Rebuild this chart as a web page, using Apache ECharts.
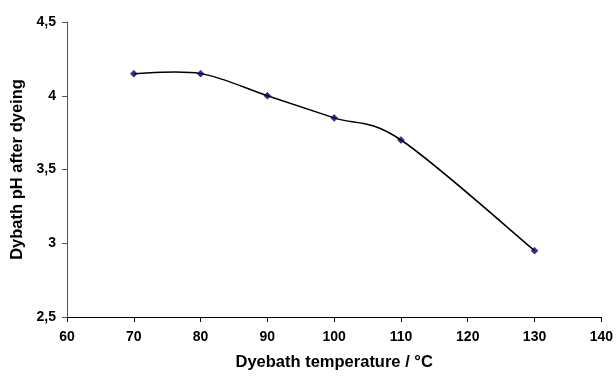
<!DOCTYPE html>
<html>
<head>
<meta charset="utf-8">
<script src="https://cdn.jsdelivr.net/npm/echarts@6/dist/echarts.min.js"></script>
<style>html,body{margin:0;padding:0;background:#fff}#c{width:616px;height:376px}</style>
</head>
<body>
<div id="c"></div>
<script>
var temperatures = [70, 80, 90, 100, 110, 130];
var phValues = [4.15, 4.15, 4.0, 3.85, 3.7, 2.95];
var xTitle = 'Dyebath temperature / °C';
var yTitle = 'Dybath pH after dyeing';

var chart = echarts.init(document.getElementById('c'));
var font = 'Liberation Sans, Arial, sans-serif';
var points = temperatures.map(function (t, i) { return [t, phValues[i]]; });

function smoothPath(params, api) {
  if (params.dataIndex !== 0) return null;
  var p = points.map(function (d) { return api.coord(d); });
  var n = p.length, k = 1 / 6;
  var d = 'M' + p[0][0] + ' ' + p[0][1];
  for (var i = 0; i < n - 1; i++) {
    var p0 = p[i > 0 ? i - 1 : i], p1 = p[i], p2 = p[i + 1], p3 = p[i + 2 < n ? i + 2 : i + 1];
    var c1x = p1[0] + (p2[0] - p0[0]) * k, c1y = p1[1] + (p2[1] - p0[1]) * k;
    var c2x = p2[0] - (p3[0] - p1[0]) * k, c2y = p2[1] - (p3[1] - p1[1]) * k;
    d += ' C' + c1x + ' ' + c1y + ' ' + c2x + ' ' + c2y + ' ' + p2[0] + ' ' + p2[1];
  }
  return {
    type: 'path',
    shape: {pathData: d},
    style: {fill: 'none', stroke: '#000', lineWidth: 1.5}
  };
}

chart.setOption({
  animation: false,
  grid: {left: 67, right: 13, top: 22, bottom: 53},
  xAxis: {
    type: 'value', min: 60, max: 140, interval: 10,
    name: xTitle, nameLocation: 'middle', nameGap: 37,
    nameTextStyle: {fontFamily: font, fontWeight: 'bold', fontSize: 16.5, color: '#000'},
    axisLine: {lineStyle: {color: '#000', width: 1}},
    axisTick: {show: true, inside: false, length: 5, lineStyle: {color: '#000'}},
    axisLabel: {fontFamily: font, fontWeight: 'bold', fontSize: 14, color: '#000', margin: 13},
    splitLine: {show: false}
  },
  yAxis: {
    type: 'value', min: 2.5, max: 4.5, interval: 0.5,
    name: yTitle, nameLocation: 'middle', nameGap: 41, nameRotate: 90,
    nameTextStyle: {fontFamily: font, fontWeight: 'bold', fontSize: 16.5, color: '#000'},
    axisLine: {show: true, lineStyle: {color: '#555', width: 1}},
    axisTick: {show: true, inside: false, length: 5, lineStyle: {color: '#555'}},
    axisLabel: {fontFamily: font, fontWeight: 'bold', fontSize: 14, color: '#000', margin: 11,
      formatter: function (v) { return String(v).replace('.', ','); }},
    splitLine: {show: false}
  },
  series: [{
    type: 'custom',
    data: points,
    renderItem: smoothPath,
    silent: true,
    z: 1
  }, {
    type: 'scatter',
    data: points,
    symbol: 'diamond', symbolSize: 7,
    itemStyle: {color: '#000080', borderColor: '#000', borderWidth: 0.5},
    z: 2
  }]
});
</script>
</body>
</html>
